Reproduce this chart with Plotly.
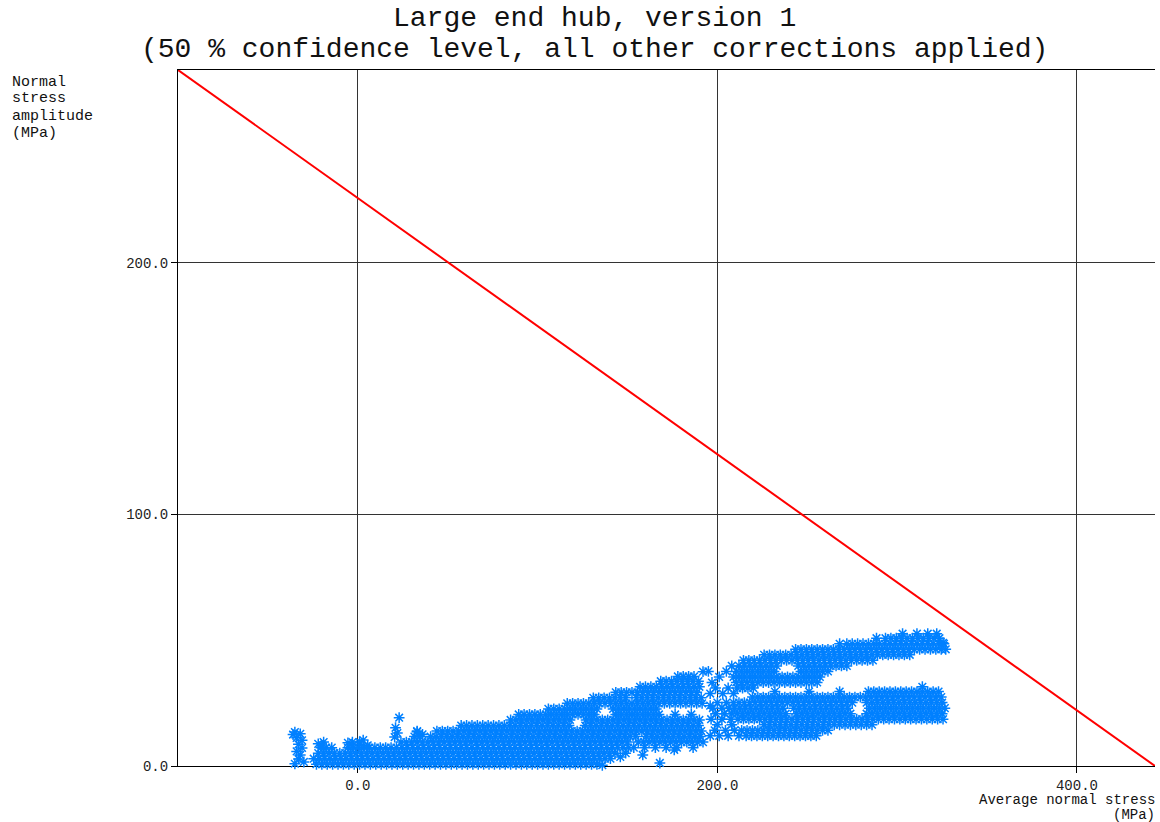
import plotly.graph_objects as go

# ---------------- data (MPa) ----------------
x_ticks = [0, 200, 400]
x_tick_labels = ["0.0", "200.0", "400.0"]
y_ticks = [0, 100, 200]
y_tick_labels = ["0.0", "100.0", "200.0"]

# limit line (Haigh diagram)
limit_avg = [-100.0, 443.4]
limit_amp = [276.7, 0.0]

# dense core of the point cloud, read row by row (amplitude level -> average stresses)
core_levels = [0.7, 2.9, 5.1, 7.3, 9.5, 11.7, 13.9, 16.1, 18.3, 20.5, 22.7, 24.9, 27.1, 29.3, 31.5, 33.7, 35.6]
c00 = [-23, -20, -17, -14, -11, -8, -5, -2, 1, 4, 7, 10, 13, 16, 19, 22, 25, 28, 31, 34, 37, 40, 43, 46, 49, 52, 55, 58,
       61, 64, 67, 70, 73, 76, 79, 82, 85, 88, 91, 94, 97, 100, 103, 106, 109, 112, 115, 118, 121, 124, 127, 130, 133]
c01 = [-24.5, -21.5, -18.5, -15.5, -12.5, -9.5, -6.5, -3.5, -0.5, 2.5, 5.5, 8.5, 11.5, 14.5, 17.5, 20.5, 23.5, 26.5,
       29.5, 32.5, 35.5, 38.5, 41.5, 44.5, 47.5, 50.5, 53.5, 56.5, 59.5, 62.5, 65.5, 68.5, 71.5, 74.5, 77.5, 80.5, 83.5,
       86.5, 89.5, 92.5, 95.5, 98.5, 101.5, 104.5, 107.5, 110.5, 113.5, 116.5, 119.5, 122.5, 125.5, 128.5, 131.5, 134.5,
       137.5, 140.5]
c02 = [-22, -19, -16, -13, -10, -7, -4, -1, 2, 5, 8, 11, 14, 17, 20, 23, 26, 29, 32, 35, 38, 41, 44, 47, 50, 53, 56, 59,
       62, 65, 68, 71, 74, 77, 80, 83, 86, 89, 92, 95, 98, 101, 104, 107, 110, 113, 116, 119, 122, 125, 128, 131, 134,
       137, 140, 143, 149]
c03 = [-20.5, -17.5, -14.5, -5.5, -2.5, 0.5, 3.5, 6.5, 9.5, 12.5, 15.5, 18.5, 21.5, 24.5, 27.5, 30.5, 33.5, 36.5, 39.5,
       42.5, 45.5, 48.5, 51.5, 54.5, 57.5, 60.5, 63.5, 66.5, 69.5, 72.5, 75.5, 78.5, 81.5, 84.5, 87.5, 90.5, 93.5, 96.5,
       99.5, 102.5, 105.5, 108.5, 111.5, 114.5, 117.5, 120.5, 123.5, 126.5, 129.5, 132.5, 135.5, 138.5, 141.5, 144.5,
       147.5, 150.5, 153.5, 159.5, 165.5, 171.5, 177.5, 186.5]
c04 = [-19, -3, 1, 24, 27, 30, 33, 36, 39, 42, 45, 48, 51, 54, 57, 60, 63, 66, 69, 72, 75, 78, 81, 84, 87, 90, 93, 96,
       99, 102, 105, 108, 111, 114, 117, 120, 123, 126, 129, 132, 135, 138, 141, 144, 147, 150, 156, 159, 162, 165,
       168, 171, 174, 177, 180, 183, 186, 189, 192]
c05 = [31.5, 34.5, 40.5, 43.5, 46.5, 49.5, 52.5, 55.5, 58.5, 61.5, 64.5, 67.5, 70.5, 73.5, 76.5, 79.5, 82.5, 85.5, 88.5,
       91.5, 94.5, 97.5, 100.5, 103.5, 106.5, 109.5, 112.5, 115.5, 118.5, 121.5, 124.5, 127.5, 130.5, 133.5, 136.5,
       139.5, 142.5, 145.5, 148.5, 151.5, 154.5, 160.5, 163.5, 166.5, 169.5, 172.5, 175.5, 178.5, 181.5, 184.5, 187.5,
       190.5]
c06 = [33, 44, 47, 50, 53, 56, 59, 62, 65, 68, 71, 74, 77, 80, 83, 86, 89, 92, 95, 98, 101, 104, 107, 110, 113, 116,
       119, 122, 125, 128, 131, 134, 137, 140, 143, 146, 149, 152, 155, 158, 161, 164, 167, 170, 173, 176, 179, 182,
       185, 188, 191]
c07 = [57.5, 60.5, 63.5, 66.5, 69.5, 72.5, 75.5, 78.5, 81.5, 84.5, 87.5, 90.5, 93.5, 96.5, 99.5, 102.5, 105.5, 108.5,
       111.5, 114.5, 117.5, 126.5, 129.5, 132.5, 135.5, 138.5, 141.5, 144.5, 147.5, 150.5, 153.5, 156.5, 159.5, 162.5,
       165.5, 168.5, 171.5, 174.5, 177.5, 180.5, 183.5, 186.5, 189.5]
c08 = [85, 88, 91, 94, 97, 100, 103, 106, 109, 112, 115, 118, 127, 130, 133, 136, 139, 142, 145, 148, 151, 154, 157,
       160, 163, 166, 169, 172, 175, 178, 181, 184, 187, 190]
c09 = [89.5, 92.5, 95.5, 98.5, 101.5, 104.5, 107.5, 110.5, 113.5, 116.5, 119.5, 122.5, 125.5, 128.5, 131.5, 143.5,
       146.5, 149.5, 152.5, 155.5, 158.5, 161.5, 164.5, 167.5, 176.5, 185.5]
c10 = [106, 109, 112, 115, 118, 121, 124, 127, 130, 133, 142, 145, 148, 151, 154, 157, 160, 163, 166]
c11 = [116.5, 119.5, 122.5, 125.5, 128.5, 131.5, 134.5, 137.5, 140.5, 143.5, 146.5, 149.5, 152.5, 155.5, 158.5,
       161.5, 164.5, 167.5, 170.5, 173.5, 176.5, 179.5, 182.5, 185.5, 188.5, 191.5]
c12 = [131, 134, 137, 140, 143, 146, 149, 155, 158, 161, 164, 167, 170, 173, 176, 179, 182, 185, 188, 191]
c13 = [143.5, 146.5, 149.5, 152.5, 155.5, 158.5, 161.5, 164.5, 167.5, 170.5, 173.5, 176.5, 179.5, 182.5, 185.5, 188.5]
c14 = [157, 160, 163, 166, 169, 172, 175, 178, 181, 184, 187, 190]
c15 = [168.5, 171.5, 174.5, 177.5, 180.5, 183.5, 186.5, 189.5]
c16 = [178, 181, 184, 187]
core_rows = [c00, c01, c02, c03, c04, c05, c06, c07, c08, c09, c10, c11, c12, c13, c14, c15, c16]

# upper branch (x > 190)
upper_levels = [28.8, 31.0, 33.2, 35.4, 37.6, 39.8, 42.0, 44.2, 46.4, 48.6, 50.8, 52.6]
u00 = [196, 203, 209]
u01 = [199, 206, 211, 214, 217, 220]
u02 = [197, 210.5, 213.5, 216.5, 219.5, 222.5, 225.5, 228.5, 231.5, 234.5, 237.5, 240.5, 243.5, 246.5, 249.5,
       252.5, 255.5]
u03 = [201, 209, 212, 215, 218, 221, 224, 227, 230, 233, 236, 239, 242, 245, 248, 251, 254, 257]
u04 = [195, 205, 210.5, 213.5, 216.5, 219.5, 222.5, 225.5, 228.5, 231.5, 246.5, 249.5, 252.5, 255.5, 258.5, 261.5]
u05 = [208, 212, 215, 218, 221, 224, 227, 230, 233, 245, 248, 251, 254, 257, 260, 263, 266, 269, 272]
u06 = [214.5, 217.5, 220.5, 223.5, 226.5, 229.5, 232.5, 235.5, 238.5, 241.5, 244.5, 247.5, 250.5, 253.5, 256.5,
       259.5, 262.5, 265.5, 268.5, 271.5, 274.5, 277.5, 280.5, 283.5, 286.5]
u07 = [226, 229, 232, 235, 238, 241, 244, 247, 250, 253, 256, 259, 262, 265, 268, 271, 274, 277, 280, 283, 286, 289,
       292, 295, 298, 301, 304, 307]
u08 = [243.5, 246.5, 249.5, 252.5, 255.5, 258.5, 261.5, 264.5, 267.5, 270.5, 273.5, 276.5, 279.5, 282.5, 285.5,
       288.5, 291.5, 294.5, 297.5, 300.5, 303.5, 306.5, 309.5, 312.5, 315.5, 318.5, 321.5, 324.5, 327]
u09 = [268, 272, 275, 278, 281, 284, 287, 290, 293, 296, 299, 302, 305, 308, 311, 314, 317, 320, 323, 326]
u10 = [288.5, 293.5, 296.5, 299.5, 302.5, 305.5, 308.5, 311.5, 314.5, 317.5, 320.5, 323.5]
u11 = [303, 311, 317, 322]
upper_rows = [u00, u01, u02, u03, u04, u05, u06, u07, u08, u09, u10, u11]

# lower branch (x > 190)
lower_levels = [12.0, 14.2, 16.4, 18.6, 20.8, 23.0, 25.2, 27.4, 29.6]
l00 = [196, 201, 206, 212, 216, 219, 222, 225, 228, 231, 234, 237, 240, 243, 246, 249, 252, 255]
l01 = [198.5, 204.5, 209.5, 213.5, 216.5, 219.5, 222.5, 225.5, 228.5, 231.5, 234.5, 237.5, 240.5, 243.5, 246.5,
       249.5, 252.5, 255.5, 258.5, 261.5]
l02 = [200, 208, 226, 229, 232, 235, 238, 241, 244, 247, 250, 253, 256, 259, 262, 265, 268, 271, 274, 277, 280,
       283, 286]
l03 = [196.5, 202.5, 207.5, 211.5, 214.5, 217.5, 220.5, 223.5, 226.5, 229.5, 232.5, 235.5, 238.5, 241.5, 244.5,
       247.5, 250.5, 253.5, 256.5, 259.5, 262.5, 265.5, 268.5, 271.5, 274.5, 277.5, 280.5, 283.5, 286.5, 289.5,
       292.5, 295.5, 298.5, 301.5, 304.5, 307.5, 310.5, 313.5, 316.5, 319.5, 322.5, 325.5]
l04 = [199, 204, 208, 211, 214, 217, 220, 223, 226, 229, 232, 235, 238, 244, 247, 250, 253, 256, 259, 262, 265, 268,
       271, 274, 283, 286, 289, 292, 295, 298, 301, 304, 307, 310, 313, 316, 319, 322, 325]
l05 = [197.5, 202.5, 206.5, 209.5, 212.5, 215.5, 218.5, 221.5, 224.5, 227.5, 230.5, 233.5, 236.5, 242.5, 245.5,
       248.5, 251.5, 254.5, 257.5, 260.5, 263.5, 266.5, 269.5, 272.5, 284.5, 287.5, 290.5, 293.5, 296.5, 299.5,
       302.5, 305.5, 308.5, 311.5, 314.5, 317.5, 320.5, 323.5, 326.5]
l06 = [200, 205, 209, 212, 215, 218, 221, 224, 227, 230, 233, 236, 239, 242, 245, 248, 251, 254, 257, 260, 263, 266,
       269, 272, 275, 283, 286, 289, 292, 295, 298, 301, 304, 307, 310, 313, 316, 319, 322, 325]
l07 = [219.5, 222.5, 225.5, 228.5, 231.5, 234.5, 237.5, 240.5, 243.5, 246.5, 249.5, 252.5, 255.5, 258.5, 261.5,
       264.5, 267.5, 270.5, 273.5, 276.5, 279.5, 282.5, 285.5, 288.5, 291.5, 294.5, 297.5, 300.5, 303.5, 306.5,
       309.5, 312.5, 315.5, 318.5, 321.5, 324.5]
l08 = [232, 251, 268, 284, 287, 290, 293, 296, 299, 302, 305, 308, 311, 314, 317, 320, 323]
lower_rows = [l00, l01, l02, l03, l04, l05, l06, l07, l08]

# isolated points
stray_avg = [-35, -32, -34, -31, -33, -31, -34, -32, -33, -35, -30, -36, -22, -20, -5.5, -3, 3, 1, 5.5,
             23, 21, 22, 20.5, 33, 36, 146, 158.5, 168, 176, 136, 314, 192, 196, 325.5]
stray_amp = [13.5, 12.8, 11.2, 10.2, 8.6, 7.2, 5.8, 4.4, 2.8, 0.9, 1.6, 12.5, 8.8, 8.0, 9.2, 8.0, 10.3, 8.6, 8.2,
             19.2, 15.2, 13.1, 11.5, 13.6, 12.6, 3.6, 4.4, 1.2, 6.4, 0.3, 31.5, 37.5, 24.0, 49.0]

# ---------------- assemble ----------------
pt_avg, pt_amp = [], []
for levels, rows in ((core_levels, core_rows), (upper_levels, upper_rows), (lower_levels, lower_rows)):
    for lvl, row in zip(levels, rows):
        pt_avg += row
        pt_amp += [lvl] * len(row)
pt_avg += stray_avg
pt_amp += stray_amp

FONT = "Liberation Mono, Courier New, monospace"
BLUE = "#0080ff"

fig = go.Figure()
fig.add_trace(go.Scatter(
    x=pt_avg, y=pt_amp, mode="markers", cliponaxis=False, hoverinfo="skip",
    marker=dict(symbol="asterisk-open", size=9, color=BLUE, line=dict(width=1.5, color=BLUE)),
))
fig.add_trace(go.Scatter(
    x=limit_avg, y=limit_amp, mode="lines", line=dict(color="#ff0000", width=2), hoverinfo="skip",
))

axis_common = dict(
    showgrid=True, gridcolor="#333333", gridwidth=1, zeroline=False,
    showline=True, linecolor="#000000", linewidth=1,
    ticks="outside", ticklen=6, tickcolor="#000000", tickwidth=1,
    tickfont=dict(family=FONT, size=14, color="#222222"),
    layer="below traces", fixedrange=True,
)
fig.update_layout(
    width=1160, height=822,
    margin=dict(l=178, r=5, t=70, b=56, pad=0),
    paper_bgcolor="white", plot_bgcolor="white",
    showlegend=False,
    xaxis=dict(range=[-100, 443.4], tickvals=x_ticks, ticktext=x_tick_labels, mirror=True, **axis_common),
    yaxis=dict(range=[0, 276.7], tickvals=y_ticks, ticktext=y_tick_labels, **axis_common),
)

# text placed as separate lines (positions in plot-paper units)
W, H, L, T = 977.0, 696.0, 178.0, 766.0


def px(xp):
    return (xp - L) / W


def py(yp):
    return (T - yp) / H


texts = [
    ("Large end hub, version 1", 594, 18, "center", 28),
    ("(50 % confidence level, all other corrections applied)", 594, 50, "center", 28),
    ("Normal", 10, 82, "left", 15),
    ("stress", 10, 99, "left", 15),
    ("amplitude", 10, 116, "left", 15),
    ("(MPa)", 10, 133, "left", 15),
    ("Average normal stress", 1157, 799.5, "right", 14),
    ("(MPa)", 1157, 814.5, "right", 14),
]
for txt, xp, yp, anchor, size in texts:
    fig.add_annotation(
        text=txt, x=px(xp), y=py(yp), xref="paper", yref="paper",
        xanchor=anchor, yanchor="middle", showarrow=False,
        font=dict(family=FONT, size=size, color="#111111"),
    )

fig.write_html("out.html")
